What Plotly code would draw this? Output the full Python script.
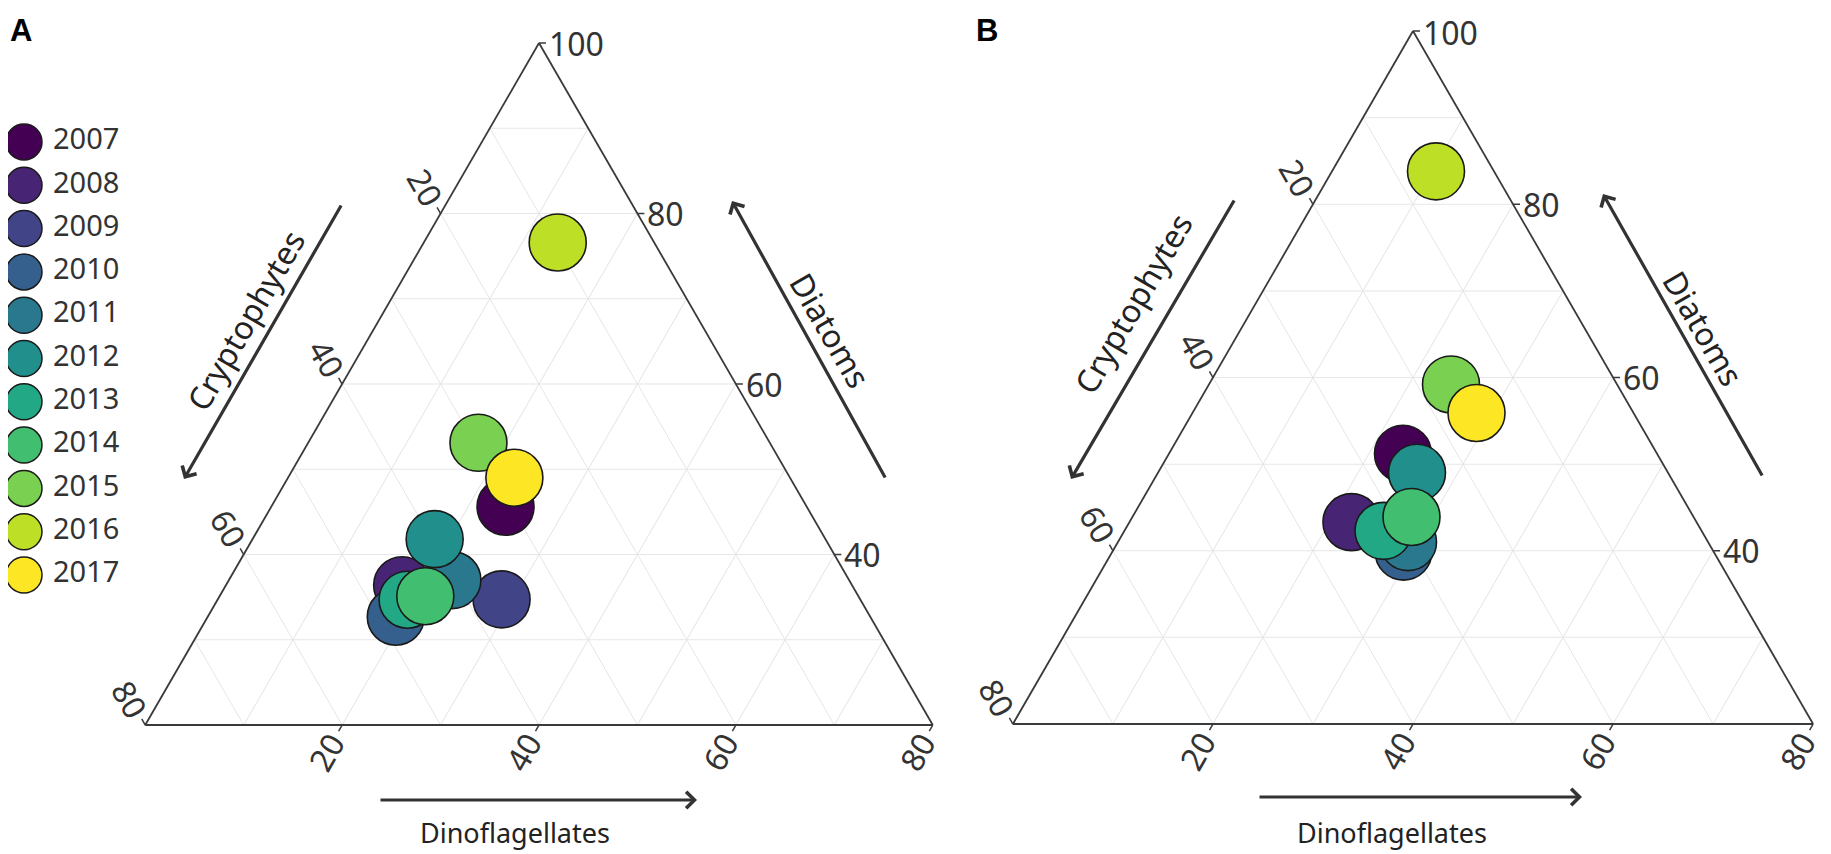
import math
import plotly.graph_objects as go

# ---------------- data ----------------
years = ["2007", "2008", "2009", "2010", "2011", "2012", "2013", "2014", "2015", "2016", "2017"]
year_colors = ["#440154", "#482475", "#414487", "#355f8d", "#2a788e", "#21908d",
               "#22a884", "#42be71", "#7ad151", "#bddf26", "#fde725"]

# Panel A
diatoms_a = [45.6, 36.4, 34.7, 32.7, 37.0, 41.8, 34.7, 35.1, 53.1, 76.6, 49.0]
crypto_a = [30.6, 45.7, 36.4, 48.2, 40.3, 39.7, 46.0, 44.0, 29.6, 9.8, 28.0]
dino_a = [23.8, 17.9, 28.8, 19.1, 22.7, 18.5, 19.3, 20.9, 17.3, 13.6, 23.0]

# Panel B
diatoms_b = [51.2, 43.3, 40.8, 39.9, 41.0, 49.0, 42.3, 43.9, 59.2, 83.8, 55.9]
crypto_b = [25.4, 34.5, 30.7, 31.0, 30.0, 25.1, 31.8, 28.2, 16.6, 5.8, 15.7]
dino_b = [23.4, 22.2, 28.5, 29.1, 29.0, 25.9, 25.9, 27.9, 24.2, 10.4, 28.4]

diatom_ticks = [40, 60, 80, 100]
crypto_ticks = [20, 40, 60, 80]
dino_ticks = [20, 40, 60, 80]
DIATOM_MIN = 20
TOTAL = 100

# ---------------- layout geometry ----------------
W, H = 1831, 854
FONT = "Noto Sans"
TXT = "#333333"
AXC = "#3a3a3a"
GRID = "#e6e6e6"

panels = {
    "A": dict(cx=531, h=682, yb=717, sub="ternary"),
    "B": dict(cx=1405, h=693, yb=716, sub="ternary2"),
}
for g in panels.values():
    g["w"] = g["h"] * 2 / math.sqrt(3)
    g["x0"] = g["cx"] - g["w"] / 2
    g["x1"] = g["cx"] + g["w"] / 2


def to_px(g, a, b, c):
    span = TOTAL - DIATOM_MIN
    ap = (a - DIATOM_MIN) / span
    cp = c / span
    x = g["x0"] + cp * g["w"] + ap * g["w"] / 2
    y = g["yb"] - ap * g["h"]
    return x, y


def px2paper(x, y):
    return x / W, 1 - y / H


fig = go.Figure()

panel_data = {"A": (diatoms_a, crypto_a, dino_a), "B": (diatoms_b, crypto_b, dino_b)}
for name, g in panels.items():
    da, cr, dn = panel_data[name]
    fig.add_trace(go.Scatterternary(
        a=da, b=cr, c=dn, mode="markers", subplot=g["sub"], showlegend=False,
        text=years, hoverinfo="text+a+b+c",
        marker=dict(size=57, color=year_colors, line=dict(color="#1a1a1a", width=1.6)),
    ))

# ---------------- legend (drawn as a small cartesian panel) ----------------
idx = list(range(len(years)))
fig.add_trace(go.Scatter(
    x=[0] * len(years), y=idx, mode="markers", showlegend=False, hoverinfo="skip",
    marker=dict(size=36, color=year_colors, line=dict(color="#1a1a1a", width=1.5)),
    xaxis="x", yaxis="y"))
fig.add_trace(go.Scatter(
    x=[1] * len(years), y=idx, mode="text", text=years, textposition="middle right",
    showlegend=False, hoverinfo="skip",
    textfont=dict(family=FONT, size=29, color=TXT), xaxis="x", yaxis="y"))

shapes = []
annotations = []


def axis_common(linecolor):
    return dict(showticklabels=False, ticks="", showgrid=True, gridcolor=GRID, gridwidth=1.2,
                dtick=10, linecolor=linecolor, linewidth=1.8, layer="below traces", title=dict(text=""))


TICK_FONT = dict(family=FONT, size=32, color=TXT)
layout_tern = {}
for name, g in panels.items():
    dx0, dy0 = px2paper(g["x0"], g["yb"])
    dx1, dy1 = px2paper(g["x1"], g["yb"] - g["h"])
    layout_tern[g["sub"]] = dict(
        domain=dict(x=[dx0, dx1], y=[dy0, dy1]),
        sum=TOTAL, bgcolor="white",
        aaxis=dict(min=DIATOM_MIN, **axis_common(AXC)),
        baxis=dict(min=0, **axis_common(AXC)),
        caxis=dict(min=0, **axis_common(AXC)),
    )

    tick_len = 7
    # Diatoms ticks: right edge, horizontal labels
    for v in diatom_ticks:
        x, y = to_px(g, v, 0, TOTAL - v)
        shapes.append(dict(type="line", xref="paper", yref="paper",
                           x0=x / W, y0=1 - y / H, x1=(x + tick_len) / W, y1=1 - y / H,
                           line=dict(color=AXC, width=1.5)))
        px_, py_ = px2paper(x + tick_len + 1, max(y, 24))
        annotations.append(dict(x=px_, y=py_, xref="paper", yref="paper", text=str(v),
                                showarrow=False, xanchor="left", yanchor="middle", font=TICK_FONT))
    # Cryptophytes ticks: left edge, direction up-left
    ux, uy = -0.5, -math.sqrt(3) / 2
    for v in crypto_ticks:
        x, y = to_px(g, TOTAL - v, v, 0)
        shapes.append(dict(type="line", xref="paper", yref="paper",
                           x0=x / W, y0=1 - y / H, x1=(x + ux * tick_len) / W, y1=1 - (y + uy * tick_len) / H,
                           line=dict(color=AXC, width=1.5)))
        d = 30
        px_, py_ = px2paper(x + ux * d, y + uy * d)
        annotations.append(dict(x=px_, y=py_, xref="paper", yref="paper", text=str(v),
                                showarrow=False, xanchor="center", yanchor="middle", textangle=60,
                                font=TICK_FONT))
    # Dinoflagellates ticks: bottom edge, direction down-left
    ux, uy = -0.5, math.sqrt(3) / 2
    for v in dino_ticks:
        x, y = to_px(g, DIATOM_MIN, TOTAL - DIATOM_MIN - v, v)
        shapes.append(dict(type="line", xref="paper", yref="paper",
                           x0=x / W, y0=1 - y / H, x1=(x + ux * tick_len) / W, y1=1 - (y + uy * tick_len) / H,
                           line=dict(color=AXC, width=1.5)))
        d = 31
        px_, py_ = px2paper(x + ux * d, y + uy * d)
        annotations.append(dict(x=px_, y=py_, xref="paper", yref="paper", text=str(v),
                                showarrow=False, xanchor="center", yanchor="middle", textangle=-60,
                                font=TICK_FONT))


def arrow(head, tail):
    hx, hy = px2paper(*head)
    return dict(x=hx, y=hy, xref="paper", yref="paper", text="", showarrow=True,
                ax=tail[0] - head[0], ay=tail[1] - head[1], axref="pixel", ayref="pixel",
                arrowhead=4, arrowsize=1.0, arrowwidth=3.2, arrowcolor="#333333", standoff=0)


def title(pos, text, angle, size, yanchor="middle"):
    x, y = px2paper(*pos)
    return dict(x=x, y=y, xref="paper", yref="paper", text=text, showarrow=False,
                xanchor="center", yanchor=yanchor, textangle=angle,
                font=dict(family=FONT, size=size, color="#222222"))


annotations += [
    # Panel A
    arrow((689, 792), (371, 792)), title((507, 845), "Dinoflagellates", 0, 27, "bottom"),
    arrow((176, 471), (334, 196)), title((238, 312), "Cryptophytes", -60, 32),
    arrow((724, 193), (878, 471)), title((823, 322), "Diatoms", 60, 32),
    # Panel B
    arrow((1574, 789), (1250, 789)), title((1384, 845), "Dinoflagellates", 0, 27, "bottom"),
    arrow((1063, 471), (1227, 191)), title((1125, 296), "Cryptophytes", -60, 32),
    arrow((1595, 186), (1755, 469)), title((1696, 320), "Diatoms", 60, 32),
]

# Panel letters
for letter, px_ in (("A", 0), ("B", 966)):
    x, y = px2paper(px_, 3)
    annotations.append(dict(x=x, y=y, xref="paper", yref="paper", text="<b>%s</b>" % letter,
                            showarrow=False, xanchor="left", yanchor="top",
                            font=dict(family="Liberation Sans", size=31, color="black")))

# legend axes geometry
leg_top_px, leg_bot_px = 90, 620
first_px, step_px = 134, 43.3
y_top = (leg_top_px - first_px) / step_px
y_bot = (leg_bot_px - first_px) / step_px
leg_w_px = 200
marker_px, text_px = 16, 45
scale = text_px - marker_px
x_left = -marker_px / scale
x_right = (leg_w_px - marker_px) / scale

fig.update_layout(
    width=W, height=H, margin=dict(l=0, r=0, t=0, b=0),
    paper_bgcolor="white", plot_bgcolor="white",
    ternary=layout_tern["ternary"], ternary2=layout_tern["ternary2"],
    xaxis=dict(domain=[0, leg_w_px / W], range=[x_left, x_right], visible=False, fixedrange=True),
    yaxis=dict(domain=[1 - leg_bot_px / H, 1 - leg_top_px / H], range=[y_bot, y_top],
               visible=False, fixedrange=True),
    shapes=shapes, annotations=annotations,
    font=dict(family=FONT, color=TXT),
)

fig.write_html("out.html")
